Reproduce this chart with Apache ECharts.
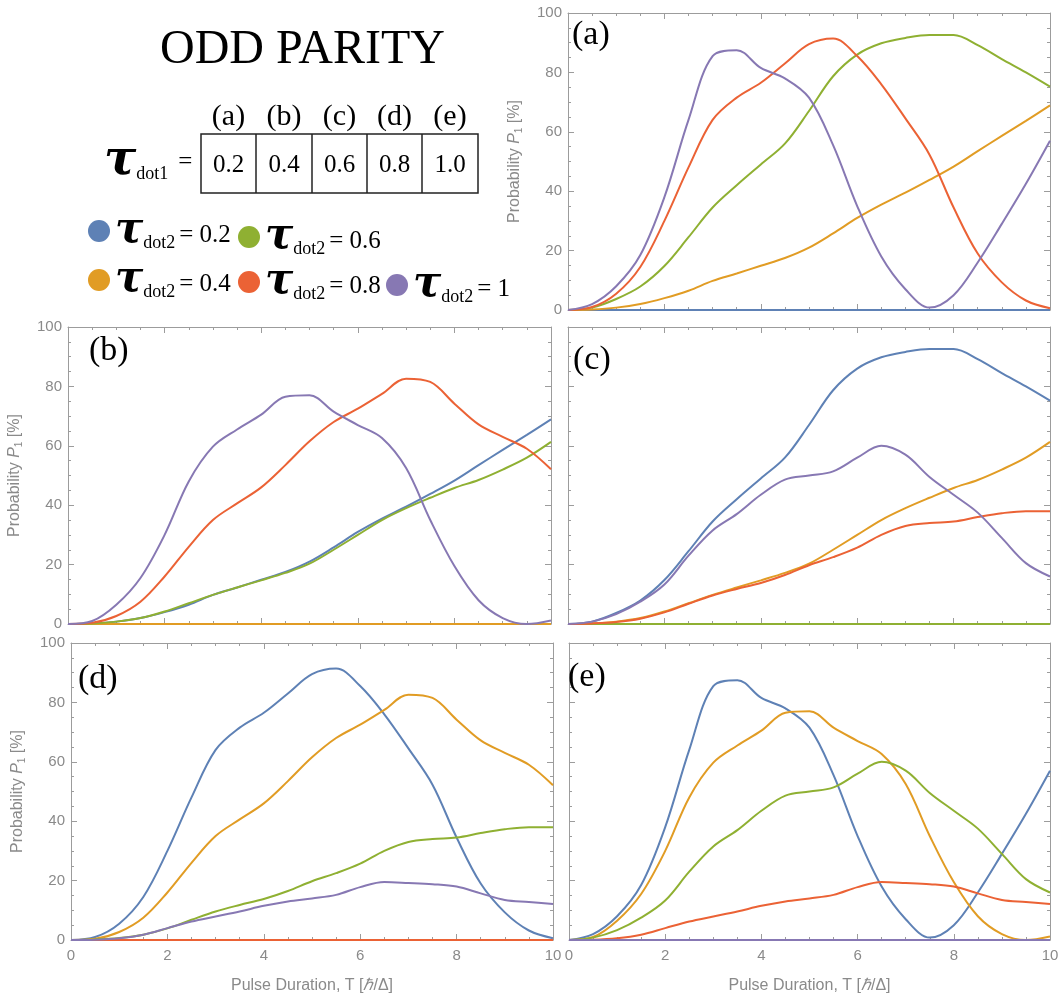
<!DOCTYPE html>
<html><head><meta charset="utf-8">
<script src="https://cdn.jsdelivr.net/npm/echarts@6/dist/echarts.min.js"></script>
<style>html,body{margin:0;padding:0;background:#fff}#c{width:1059px;height:1001px}</style>
</head><body><div id="c"></div>
<script>
// ---------------- DATA ----------------
const T = [0,0.5,1,1.5,2,2.5,3,3.5,4,4.5,5,5.5,6,6.5,7,7.5,8,8.5,9,9.5,10];
const flat   = [0,0,0,0,0,0,0,0,0,0,0,0,0,0,0,0,0,0,0,0,0];
// P1 for a (tau_dot1, tau_dot2) pair (symmetric)
const p02_04 = [0,0.2,0.8,2,4,6.5,9.8,12.3,14.9,17.5,21,25.8,31,35.5,39.5,43.8,48.3,53.5,58.6,63.7,68.9];
const p02_06 = [0,0.8,3.7,7.9,14.8,24.5,34.5,42,49,56,67,78.7,86,89.8,91.6,92.6,92.6,89.2,84.5,80,75.2];
const p02_08 = [0,1,5.5,14.5,30,48,64,71.5,76.5,83,89.5,91.4,85.5,76,64.5,52.3,34.5,19,9.3,3.2,0.6];
const p02_10 = [0,2,8,18.5,38,64,85.5,87.5,81.5,78,71.5,55.5,35,18,7,0.8,5,16,29,42.5,57];
const p04_06 = [0,0.2,0.8,2,4.2,7,9.8,12.3,14.7,17.2,20.3,25,30,35,39,42.5,45.8,48.5,52,56,61.3];
const p04_08 = [0,0.4,2.7,7.5,16,26,35,40.6,46,53.5,61.5,68,72.5,77.5,82.6,81.5,74.2,67.2,63,59,52.1];
const p04_10 = [0,1,6.5,15.5,30,48,59.7,65.5,70.5,76.5,77,71.5,67,62.6,52.5,35,19.5,8,2,0,1.2];
const p06_08 = [0,0.2,0.7,1.8,3.9,6.8,9.6,11.8,13.8,16.5,19.8,22.5,25.7,30,33,34,34.5,36,37.3,38,38];
const p06_10 = [0,0.8,3.3,7.5,13.3,23,31.5,37,43.5,48.6,50,51.4,56,60,57,49.5,43.5,37.5,29,20.5,16];
const p08_10 = [0,0.1,0.6,1.8,4,6.2,7.9,9.6,11.5,13,14,15.2,17.8,19.5,19.2,18.8,18,15.7,13.5,12.8,12.1];

// panel (tau_dot1) -> curves for tau_dot2 = 0.2, 0.4, 0.6, 0.8, 1
const panelA = [flat,   p02_04, p02_06, p02_08, p02_10];
const panelB = [p02_04, flat,   p04_06, p04_08, p04_10];
const panelC = [p02_06, p04_06, flat,   p06_08, p06_10];
const panelD = [p02_08, p04_08, p06_08, flat,   p08_10];
const panelE = [p02_10, p04_10, p06_10, p08_10, flat];

const panelLetters = ['(a)','(b)','(c)','(d)','(e)'];
const tau1Values = ['0.2','0.4','0.6','0.8','1.0'];
const tau2Labels = ['0.2','0.4','0.6','0.8','1'];
const seriesNames = ['τdot2 = 0.2','τdot2 = 0.4','τdot2 = 0.6','τdot2 = 0.8','τdot2 = 1'];
const titleText = 'ODD PARITY';

// ---------------- STYLE / LAYOUT ----------------
const colors = ['#5e81b5','#e19c24','#8fb032','#eb6235','#8778b3'];
const frameColor = '#9c9c9c';
const labelColor = '#8a8a8a';
const sans = '"Liberation Sans", Arial, sans-serif';
const serif = '"Liberation Serif", "Times New Roman", serif';

const panels = [panelA, panelB, panelC, panelD, panelE];
// plot rectangles
const grids = [
  {left:568, top:13,  width:482, height:297, yLabels:true,  xLabels:false, letter:[572,18]},
  {left:68,  top:327, width:483, height:297, yLabels:true,  xLabels:false, letter:[89,334]},
  {left:568, top:327, width:482, height:297, yLabels:false, xLabels:false, letter:[573,343]},
  {left:71,  top:643, width:482, height:297, yLabels:true,  xLabels:true,  letter:[78,662]},
  {left:569, top:643, width:481, height:297, yLabels:false, xLabels:true,  letter:[568,660]}
];

const tick = {show:true, inside:true, length:6, lineStyle:{color:frameColor, width:1}};
const minor = {show:true, splitNumber:4, length:3, lineStyle:{color:frameColor, width:1}};
const line = {show:true, onZero:false, lineStyle:{color:frameColor, width:1}};

const yName = '{n|Probability }{i|P}{s|1}{n| [%]}';
const xName = '{n|Pulse Duration, T [}{i|ℏ}{n|/Δ]}';
const nameRich = {
  n:{fontFamily:sans, fontSize:16, color:labelColor},
  i:{fontFamily:sans, fontSize:16, fontStyle:'italic', color:labelColor},
  s:{fontFamily:sans, fontSize:10, color:labelColor, padding:[8,0,0,0]}
};

const xAxes = [], yAxes = [], series = [];
grids.forEach((g, gi) => {
  ['bottom','top'].forEach((pos, k) => {
    const main = k === 0;
    xAxes.push({
      type:'value', gridIndex:gi, position:pos, min:0, max:10, interval:2,
      axisLine:line, axisTick:tick, minorTick:minor,
      splitLine:{show:false}, minorSplitLine:{show:false},
      axisLabel:{show: main && g.xLabels, margin:8, color:labelColor, fontFamily:sans, fontSize:15},
      name: (main && g.xLabels) ? xName : '',
      nameLocation:'middle', nameGap:38,
      nameTextStyle:{rich:nameRich}
    });
  });
  ['left','right'].forEach((pos, k) => {
    const main = k === 0;
    yAxes.push({
      type:'value', gridIndex:gi, position:pos, min:0, max:100, interval:20,
      axisLine:line, axisTick:tick, minorTick:minor,
      splitLine:{show:false}, minorSplitLine:{show:false},
      axisLabel:{show: main && g.yLabels, margin:6, color:labelColor, fontFamily:sans, fontSize:15},
      name: (main && g.yLabels) ? yName : '',
      nameLocation:'middle', nameRotate:90, nameGap:44,
      nameTextStyle:{rich:nameRich}
    });
  });
  panels[gi].forEach((curve, si) => {
    series.push({
      type:'line', name:seriesNames[si],
      xAxisIndex:gi*2, yAxisIndex:gi*2,
      data:T.map((t, i) => [t, curve[i]]),
      smooth:0.35, symbol:'none', showSymbol:false, clip:false, silent:true,
      lineStyle:{width:2, color:colors[si]}, itemStyle:{color:colors[si]},
      z:2
    });
  });
});

const legendRich = {
  t:{fontFamily:'"DejaVu Serif", serif', fontWeight:'bold', fontStyle:'italic', fontSize:42, color:'#000'},
  s:{fontFamily:serif, fontSize:18, color:'#000', padding:[24,0,0,0]},
  v:{fontFamily:serif, fontSize:25, color:'#000', padding:[8,0,0,4]}
};
const legendPos = [[88,210],[88,259],[238,216],[238,261],[386,264]];
const legends = seriesNames.map((nm, i) => ({
  data:[nm], left:legendPos[i][0], top:legendPos[i][1], padding:0,
  icon:'circle', itemWidth:22, itemHeight:22, selectedMode:false,
  formatter: () => '{t|τ}{s|dot2}{v|= ' + tau2Labels[i] + '}',
  textStyle:{rich:legendRich}
}));

const titles = [{text:titleText, left:160, top:26, padding:0,
  textStyle:{fontFamily:serif, fontWeight:'normal', fontSize:48, color:'#000'}}];
grids.forEach((g, gi) => titles.push({
  text:panelLetters[gi], left:g.letter[0], top:g.letter[1], padding:0,
  textStyle:{fontFamily:serif, fontWeight:'normal', fontSize:34, color:'#000'}
}));

// table block
const cellEdges = [201,256,312,367,422,478];
const tableTop = 134, tableBottom = 193;
const graphic = [];
graphic.push({type:'rect', shape:{x:cellEdges[0], y:tableTop, width:cellEdges[5]-cellEdges[0], height:tableBottom-tableTop},
  style:{fill:null, stroke:'#222', lineWidth:1.5}});
for (let i = 1; i < 5; i++) {
  graphic.push({type:'line', shape:{x1:cellEdges[i], y1:tableTop, x2:cellEdges[i], y2:tableBottom},
    style:{stroke:'#222', lineWidth:1.5}});
}
for (let i = 0; i < 5; i++) {
  const cx = (cellEdges[i] + cellEdges[i+1]) / 2;
  graphic.push({type:'text', x:cx, y:165, style:{text:tau1Values[i], fontFamily:serif, fontSize:25, fill:'#000',
    align:'center', verticalAlign:'middle', textAlign:'center', textVerticalAlign:'middle'}});
  graphic.push({type:'text', x:cx, y:117, style:{text:panelLetters[i], fontFamily:serif, fontSize:30, fill:'#000',
    align:'center', verticalAlign:'middle', textAlign:'center', textVerticalAlign:'middle'}});
}
graphic.push({type:'text', x:104, y:162, style:{
  text:'{t|τ}{s|dot1}{e|=}', verticalAlign:'middle', textVerticalAlign:'middle',
  rich:{
    t:{fontFamily:'"DejaVu Serif", serif', fontWeight:'bold', fontStyle:'italic', fontSize:48, fill:'#000', color:'#000'},
    s:{fontFamily:serif, fontSize:18, fill:'#000', color:'#000', padding:[24,0,0,0]},
    e:{fontFamily:serif, fontSize:25, fill:'#000', color:'#000', padding:[0,0,0,10]}
  }
}});

const chart = echarts.init(document.getElementById('c'), null, {renderer:'canvas'});
chart.setOption({
  animation:false,
  backgroundColor:'#fff',
  title:titles,
  legend:legends,
  grid:grids.map(g => ({left:g.left, top:g.top, width:g.width, height:g.height, containLabel:false, outerBoundsMode:'none'})),
  xAxis:xAxes,
  yAxis:yAxes,
  series:series,
  graphic:graphic
});
</script></body></html>
